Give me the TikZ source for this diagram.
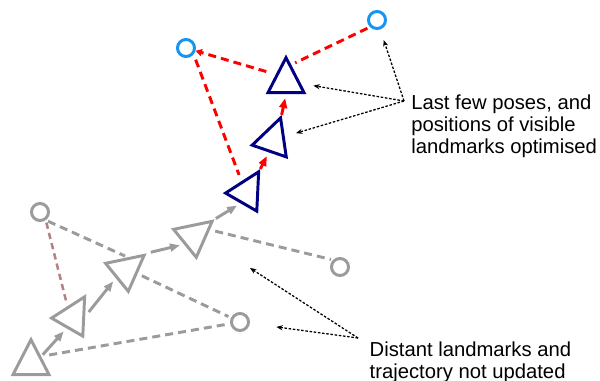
\documentclass[tikz,border=0pt]{standalone}
\usepackage{fontspec}
\setmainfont{Liberation Sans}
\usetikzlibrary{arrows.meta,shapes.geometric}
\definecolor{posenavy}{RGB}{0,0,128}
\definecolor{fadegray}{RGB}{155,155,155}
\definecolor{lmkblue}{RGB}{20,150,240}
\definecolor{seenred}{RGB}{255,0,0}
\definecolor{seenrose}{RGB}{180,130,130}

\begin{document}
\begin{tikzpicture}[
  x=0.025cm, y=-0.025cm,
  oldpose/.style={regular polygon, regular polygon sides=3, draw=fadegray, line width=2.1pt,
    minimum size=29.6pt, inner sep=0pt, yscale=1.12},
  newpose/.style={oldpose, draw=posenavy},
  oldlmk/.style={circle, draw=fadegray, line width=2.1pt, minimum size=12.1pt, inner sep=0pt},
  newlmk/.style={oldlmk, draw=lmkblue},
  oldmove/.style={fadegray, line width=2.1pt, -{Triangle[length=7pt,width=5.5pt]}, shorten >=2.8pt},
  newmove/.style={oldmove, seenred},
  oldseen/.style={fadegray, line width=2.1pt, dash pattern=on 5.7pt off 3.6pt},
  newseen/.style={oldseen, seenred},
  roseseen/.style={oldseen, seenrose, line width=1.8pt, dash pattern=on 4.5pt off 3pt},
  callout/.style={black, line width=0.9pt, dash pattern=on 1.8pt off 1.2pt,
    -{Stealth[length=4.5pt,width=3.6pt]}},
  note/.style={align=left, inner sep=0pt, anchor=north west, font=\fontsize{14.4}{15.8}\selectfont}
]
\useasboundingbox (0,0) rectangle (600,381);

% landmarks
\node[oldlmk] (m1) at (40,212) {};
\node[oldlmk] (m2) at (340,267) {};
\node[oldlmk] (m3) at (240,322) {};
\node[newlmk] (m4) at (186,48) {};
\node[newlmk] (m5) at (377,20) {};

% poses, oldest first
\node[rotate=0, oldpose] (p1) at (31,363) {};
\node[rotate=-30, oldpose] (p2) at (73,317) {};
\node[rotate=-51, oldpose] (p3) at (126,270) {};
\node[rotate=-51, oldpose] (p4) at (194,236) {};
\node[rotate=-30, newpose] (p5) at (247,192) {};
\node[rotate=-19, newpose] (p6) at (273,140) {};
\node[rotate=0, newpose] (p7) at (286,81) {};

% old observations
\draw[oldseen, shorten <=1.8pt, shorten >=2pt] (m1.-55) -- (p3.137);
\draw[roseseen, shorten <=1.8pt, shorten >=3.2pt] (m1.-55) -- (p2.side 1);
\draw[oldseen, shorten <=5.7pt, shorten >=2pt] (p1.side 3) -- (m3);
\draw[oldseen, shorten <=3.3pt, shorten >=2pt] (p3.side 3) -- (m3);
\draw[oldseen, shorten <=3.8pt, shorten >=1.5pt] (p4.70) -- (m2.135);

% current observations
\draw[newseen, shorten <=4pt, shorten >=4.7pt] (m4.-40) -- (p5.side 1);
\draw[newseen, -{Triangle[length=4.5pt,width=5pt]}, shorten <=7pt] (p7.side 1) -- (m4);
\draw[newseen, shorten <=2pt, shorten >=3pt] (m5.225) -- (p7.70);

% motion
\draw[oldmove, shorten <=1.5pt] (p1.side 3) -- (p2.side 2);
\draw[oldmove, shorten <=4pt] (p2.side 3) -- (p3.side 2);
\draw[oldmove, shorten <=3pt] (p3.corner 1) -- (p4.side 2);
\draw[oldmove, shorten <=1pt] (p4.corner 1) -- (p5.side 2);
\draw[newmove] (p5.corner 1) -- (p6.side 2);
\draw[newmove] (p6.corner 1) -- (p7.side 2);

% notes
\coordinate (optsrc) at (404,101);
\coordinate (oldsrc) at (358,338);
\coordinate (oldpath) at (250,268);
\node[note] (optnote) at (411,94.3) {Last few poses, and\\positions of visible\\landmarks optimised};
\node[note] (oldnote) at (369.4,341.3) {Distant landmarks and\\trajectory not updated};
\draw[callout, shorten >=8pt] (optsrc) -- (m5);
\draw[callout, shorten >=8.9pt] (optsrc) -- (p7);
\draw[callout, shorten >=8.3pt] (optsrc) -- (p6);
\draw[callout] (oldsrc) -- (oldpath);
\draw[callout, shorten >=19pt] (oldsrc) -- (m3);
\end{tikzpicture}
\end{document}
